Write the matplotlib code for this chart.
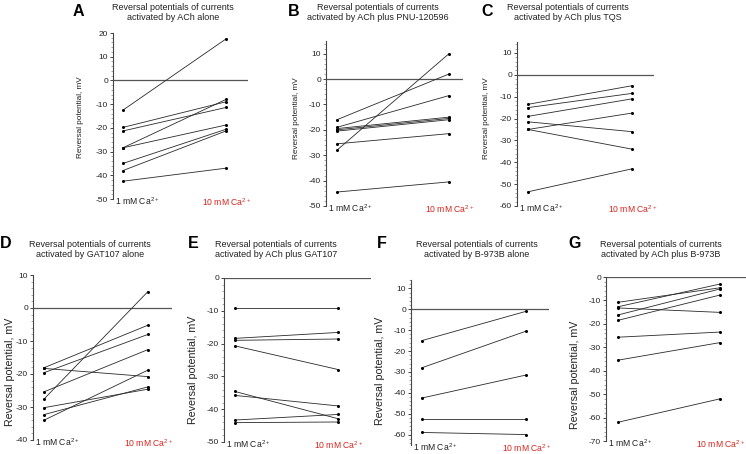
import matplotlib
matplotlib.use("Agg")
import matplotlib.pyplot as plt
from matplotlib.ticker import MultipleLocator

plt.rcParams['font.family'] = ['Liberation Sans', 'DejaVu Sans']
plt.rcParams['mathtext.default'] = 'regular'
plt.rcParams['axes.unicode_minus'] = False

W, H = 746, 454

# ---- data (mV), paired by index: 1 mM Ca2+ -> 10 mM Ca2+ ----
a_ca1 = [-12.5, -19.8, -21.3, -28.4, -28.4, -35.0, -38.0, -42.5]
a_ca10 = [17.5, -9.0, -11.4, -8.0, -18.8, -20.6, -21.3, -37.0]

b_ca1 = [-28.0, -16.0, -19.0, -19.5, -20.0, -20.5, -25.5, -44.5]
b_ca10 = [10.0, 2.0, -6.5, -15.0, -15.5, -16.0, -21.5, -40.5]

c_ca1 = [-13.5, -15.0, -19.0, -21.5, -25.0, -25.0, -53.5]
c_ca10 = [-5.0, -8.5, -11.0, -26.0, -17.5, -34.0, -43.0]

d_ca1 = [-27.6, -18.1, -19.6, -18.3, -25.4, -30.2, -32.3, -34.0]
d_ca10 = [5.0, -5.2, -8.0, -20.8, -12.6, -24.6, -23.9, -18.8]

e_ca1 = [-9.0, -18.4, -19.0, -20.7, -34.6, -35.8, -43.3, -44.1]
e_ca10 = [-9.0, -16.6, -18.6, -27.9, -42.9, -39.0, -41.6, -43.9]

f_ca1 = [-15.0, -28.0, -42.5, -52.5, -59.0]
f_ca10 = [-1.0, -10.5, -31.5, -52.5, -60.0]

g_ca1 = [-10.8, -12.7, -13.2, -16.2, -18.5, -25.7, -35.5, -62.0]
g_ca10 = [-4.6, -3.0, -15.1, -5.1, -7.7, -23.5, -28.0, -52.0]

letters = ['A', 'B', 'C', 'D', 'E', 'F', 'G']
titles = [
    'Reversal potentials of currents\nactivated by ACh alone',
    'Reversal potentials of currents\nactivated by ACh plus PNU-120596',
    'Reversal potentials of currents\nactivated by ACh plus TQS',
    'Reversal potentials of currents\nactivated by GAT107 alone',
    'Reversal potentials of currents\nactivated by ACh plus GAT107',
    'Reversal potentials of currents\nactivated by B-973B alone',
    'Reversal potentials of currents\nactivated by ACh plus B-973B',
]
ylims = [(-50, 20), (-50, 15), (-60, 15), (-40, 10), (-50, 0), (-65, 14), (-70, 0)]
xcat = ['1 mM Ca$^{2+}$', '10 mM Ca$^{2+}$']
ylabel = 'Reversal potential, mV'
series = [(a_ca1, a_ca10), (b_ca1, b_ca10), (c_ca1, c_ca10), (d_ca1, d_ca10),
          (e_ca1, e_ca10), (f_ca1, f_ca10), (g_ca1, g_ca10)]

# layout in pixels: spine x, zero-line end x, top y, bottom y, x of 1mM, x of 10mM,
# title centre x, letter x, ylabel centre x, ylabel centre y, ylabel size
layout = [
    (113, 248, 33, 199, 123, 226, 173, 73, 80, 117, 5.9),
    (326, 463, 41, 206, 337, 449, 378, 288, 296, 118, 5.9),
    (517, 654, 42, 206, 528, 632, 568, 481, 487, 118, 5.9),
    (33, 172, 275, 440, 44, 148, 90, 0, 10, 372, 7.7),
    (224, 371, 278, 442, 235, 338, 276, 188, 193, 370, 7.7),
    (411, 549, 280, 445, 422, 526, 477, 377, 380, 371, 7.7),
    (606, 746, 277, 441, 618, 720, 661, 568, 575, 375, 7.7),
]
row_title_y = [3, 240]
row_letter_y = [3.5, 236.5]

fig = plt.figure(figsize=(W / 100, H / 100), dpi=100)
red = '#d9241f'
grey = '#222222'

for i, ((c1, c10), lay, yl) in enumerate(zip(series, layout, ylims)):
    sx, ex, ty, by, p0, p1, tcx, lx, ylx, yly, yls = lay
    ax = fig.add_axes([sx / W, 1 - by / H, (ex - sx) / W, (by - ty) / H])
    ax.set_ylim(*yl)
    ax.set_xlim((sx - p0) / (p1 - p0), (ex - p0) / (p1 - p0))
    for v1, v10 in zip(c1, c10):
        ax.plot([0, 1], [v1, v10], color='#2a2a2a', lw=0.6, marker='o', ms=2.2,
                mfc='black', mew=0, clip_on=False)
    ax.axhline(0, color='#555555', lw=0.9, zorder=0)
    for s in ['top', 'right', 'bottom']:
        ax.spines[s].set_visible(False)
    ax.spines['left'].set_color('#444444')
    ax.spines['left'].set_linewidth(0.8)
    ax.set_xticks([])
    ax.yaxis.set_major_locator(MultipleLocator(10))
    ax.yaxis.set_minor_locator(MultipleLocator(2))
    ax.tick_params(axis='y', which='major', length=2.5, width=0.7, colors='#444444',
                   labelsize=6, labelcolor=grey, pad=1)
    ax.tick_params(axis='y', which='minor', length=1.3, width=0.5, colors='#888888')
    # y label, positioned in figure pixels
    fig.text(ylx / W, 1 - yly / H, ylabel, rotation=90, fontsize=yls, color=grey,
             ha='center', va='center')
    # category labels, just below the axis bottom
    fig.text((sx + 2) / W, 1 - (by + 2) / H, xcat[0], fontsize=6.2,
             color=grey, ha='left', va='center')
    fig.text((p1 + 1) / W, 1 - (by + 3.5) / H, xcat[1], fontsize=6.2,
             color=red, ha='center', va='center')
    ry = row_title_y[0 if i < 3 else 1]
    fig.text(tcx / W, 1 - ry / H, titles[i], fontsize=6.5, color=grey,
             ha='center', va='top', linespacing=1.1)
    fig.text(lx / W, 1 - row_letter_y[0 if i < 3 else 1] / H, letters[i],
             fontsize=11.5, fontweight='bold', ha='left', va='top')

fig.savefig('out.png', dpi=100)
